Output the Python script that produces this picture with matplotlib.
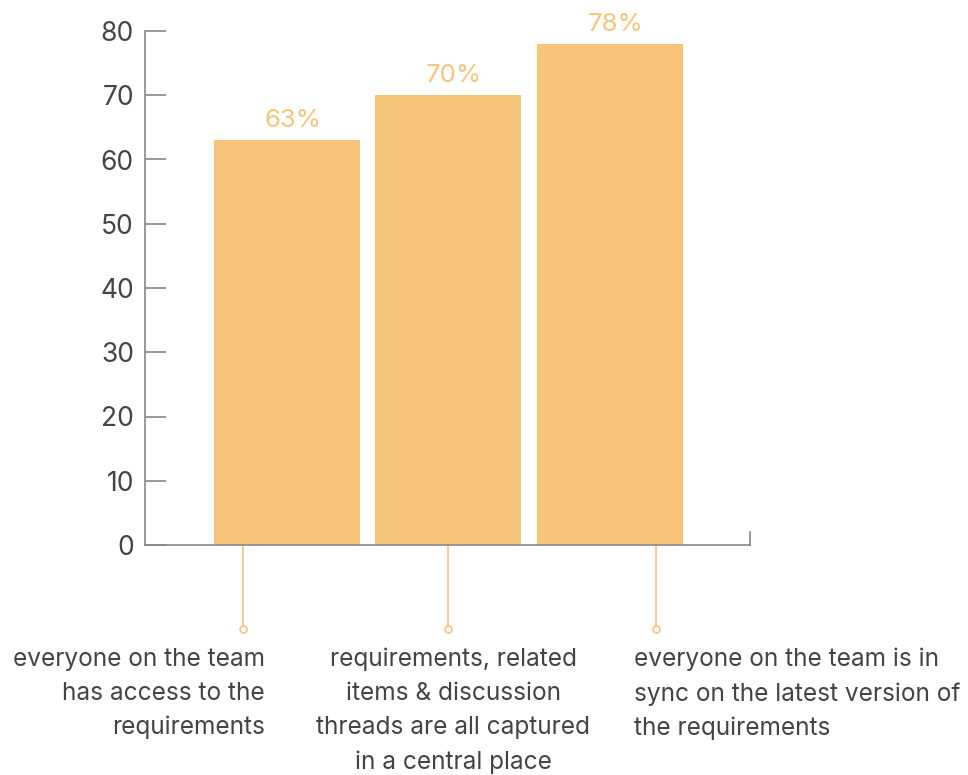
import matplotlib
matplotlib.use("Agg")
import matplotlib.pyplot as plt
import matplotlib.transforms as mtransforms

categories = [
    "everyone on the team\nhas access to the\nrequirements",
    "requirements, related\nitems & discussion\nthreads are all captured\nin a central place",
    "everyone on the team is in\nsync on the latest version of\nthe requirements",
]
values = [63, 70, 78]
value_labels = ["63%", "70%", "78%"]
yticks = [0, 10, 20, 30, 40, 50, 60, 70, 80]

BAR = "#F7C57A"
TXT = "#444444"
AX = "#888888"
plt.rcParams["font.family"] = ["Inter", "DejaVu Sans"]

fig = plt.figure(figsize=(9.68, 7.75), dpi=100)
W, H = 968, 775
ax = fig.add_axes([145 / W, (775 - 545) / H, (750 - 145) / W, (545 - 31) / H])

xs = list(range(len(values)))
ax.bar(xs, values, width=0.904, color=BAR)
ax.set_xlim(-0.879, 2.867)
ax.set_ylim(0, 80)
ax.set_yticks(yticks)
ax.set_xticks([])
ax.tick_params(axis="y", direction="in", length=15, width=1.2, color=AX,
               labelsize=19, labelcolor=TXT, pad=8)
ax.spines["top"].set_visible(False)
for s in ["left", "bottom", "right"]:
    ax.spines[s].set_color(AX)
    ax.spines[s].set_linewidth(1.2)
ax.spines["right"].set_bounds(0, 2)

for x, v, lab in zip(xs, values, value_labels):
    ax.annotate(lab, (x, v), xytext=(4, 6), textcoords="offset points",
                ha="center", va="bottom", fontsize=18.5, color=BAR)

trans = mtransforms.blended_transform_factory(ax.transData, ax.transAxes)
leader_off = [-0.272, 0.0, 0.285]
text_off = [-0.136, 0.03, 0.149]
aligns = ["right", "center", "left"]
for x, lo, to, ha, cat in zip(xs, leader_off, text_off, aligns, categories):
    ax.plot([x + lo, x + lo], [0, -0.163], transform=trans, color=BAR,
            lw=1.2, clip_on=False)
    ax.plot([x + lo], [-0.163], transform=trans, marker="o", ms=5,
            mfc="white", mec=BAR, mew=1.2, clip_on=False)
    ax.text(x + to, -0.2, cat, transform=trans, ha=ha, va="top",
            multialignment=ha, fontsize=17.6, color=TXT, linespacing=1.6)

fig.savefig("out.png", dpi=100)
